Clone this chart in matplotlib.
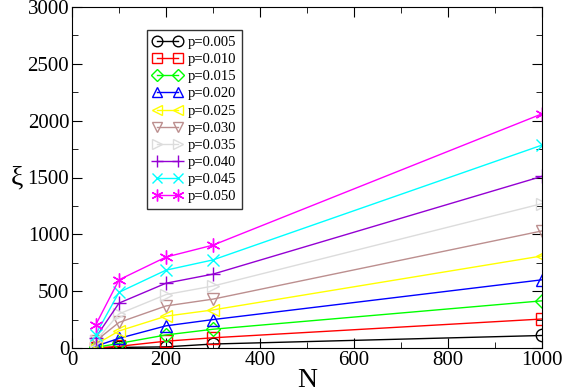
import matplotlib
matplotlib.use('Agg')
import matplotlib.pyplot as plt
from matplotlib.ticker import MultipleLocator

plt.rcParams['font.family'] = ['Liberation Serif', 'DejaVu Serif']

N = [50, 100, 200, 300, 1000]
labels = ['p=0.005', 'p=0.010', 'p=0.015', 'p=0.020', 'p=0.025',
          'p=0.030', 'p=0.035', 'p=0.040', 'p=0.045', 'p=0.050']
xi_005 = [0, 5, 10, 35, 110]
xi_010 = [0, 15, 60, 90, 255]
xi_015 = [5, 40, 115, 165, 415]
xi_020 = [15, 85, 195, 250, 600]
xi_025 = [30, 150, 280, 335, 810]
xi_030 = [60, 225, 370, 430, 1030]
xi_035 = [60, 300, 470, 545, 1270]
xi_040 = [90, 395, 570, 650, 1510]
xi_045 = [115, 490, 685, 775, 1785]
xi_050 = [200, 600, 800, 905, 2060]
series = [xi_005, xi_010, xi_015, xi_020, xi_025,
          xi_030, xi_035, xi_040, xi_045, xi_050]

colors = ['black', '#ff0000', '#00ff00', '#0000ff', '#ffff00',
          '#bc8f8f', '#dcdcdc', '#9400d3', '#00ffff', '#ff00ff']
markers = ['o', 's', 'D', '^', '<', 'v', '>', '+', 'x', (6, 2, 0)]
sizes = [9, 9, 7, 9, 9, 9, 9, 10, 8, 10]

fig = plt.figure(figsize=(5.81, 3.92), dpi=100)
ax = fig.add_axes([72/581, 44/392, 470/581, 341/392])

for ys, lab, c, m, s in zip(series, labels, colors, markers, sizes):
    ax.plot(N, ys, color=c, marker=m, markersize=s, markerfacecolor='none',
            markeredgecolor=c, markeredgewidth=1, linewidth=1, label=lab)

ax.set_xlim(0, 1000)
ax.set_ylim(0, 3000)
ax.xaxis.set_major_locator(MultipleLocator(200))
ax.xaxis.set_minor_locator(MultipleLocator(100))
ax.yaxis.set_major_locator(MultipleLocator(500))
ax.yaxis.set_minor_locator(MultipleLocator(250))
ax.tick_params(which='both', direction='in', top=True, right=True,
               labelsize=15, pad=2)
ax.tick_params(which='major', length=7)
ax.tick_params(which='minor', length=4)

ax.set_xlabel('N', fontsize=20, labelpad=-1)
ax.set_ylabel('ξ', fontsize=20, rotation=0, labelpad=8, va='center')

leg = ax.legend(loc='upper left', bbox_to_anchor=(75/470, 1 - 23/341),
                fontsize=10.5, frameon=True, fancybox=False, borderpad=0.4,
                labelspacing=0.27, handlelength=2.0, handletextpad=0.4,
                borderaxespad=0, numpoints=2, markerscale=0.85)
leg.get_frame().set_edgecolor('black')
leg.get_frame().set_linewidth(1)

fig.savefig('out.png', dpi=100)
